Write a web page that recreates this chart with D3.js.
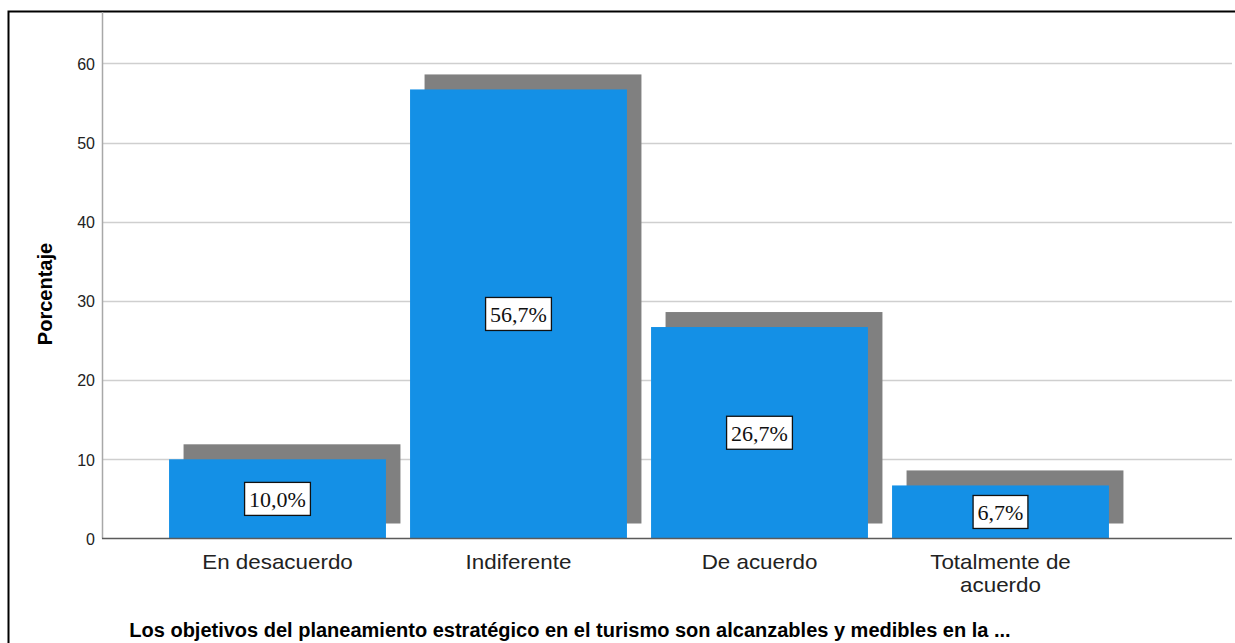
<!DOCTYPE html>
<html><head><meta charset="utf-8">
<script src="https://cdn.jsdelivr.net/npm/d3@7"></script>
<style>html,body{margin:0;padding:0;background:#fff;}svg{display:block;}</style>
</head><body>
<script>
const categories = ["En desacuerdo", "Indiferente", "De acuerdo", "Totalmente de acuerdo"];
const categoryLines = [["En desacuerdo"], ["Indiferente"], ["De acuerdo"], ["Totalmente de", "acuerdo"]];
const percentages = [10.0, 56.7, 26.7, 6.7];
const valueLabels = ["10,0%", "56,7%", "26,7%", "6,7%"];
const yTicks = [0, 10, 20, 30, 40, 50, 60];
const yTitle = "Porcentaje";
const xTitle = "Los objetivos del planeamiento estratégico en el turismo son alcanzables y medibles en la ...";

const W = 1235, H = 643;
const svg = d3.select("body").append("svg").attr("width", W).attr("height", H);
const sans = "Arial, 'Liberation Sans', sans-serif";

// frame
svg.append("path").attr("d", `M8.5,${H} L8.5,11.5 L${W},11.5`).attr("fill", "none").attr("stroke", "#000").attr("stroke-width", 2);

const plotLeft = 102, plotRight = 1232, plotTop = 12;
const y = d3.scaleLinear().domain([0, 60]).range([538.5, 63.3]);
const x = d3.scaleBand().domain(categories).range([157, 1121]).paddingInner(0.1).paddingOuter(0.05);

// gridlines
svg.append("g").selectAll("line").data(yTicks.filter(d => d > 0)).join("line")
  .attr("x1", plotLeft).attr("x2", plotRight)
  .attr("y1", d => Math.round(y(d)) + 0.5).attr("y2", d => Math.round(y(d)) + 0.5)
  .attr("stroke", "#cfcfcf").attr("stroke-width", 1.5);

// y axis
const yAxis = d3.axisLeft(y).tickValues(yTicks).tickSize(0).tickPadding(7);
const gy = svg.append("g").attr("transform", `translate(${plotLeft},0)`).call(yAxis);
gy.select(".domain").remove();
gy.attr("font-size", 16).attr("font-family", sans);
gy.selectAll("text").attr("font-family", sans).attr("font-size", 16).attr("fill", "#222").attr("dy", "0.36em");
svg.append("line").attr("x1", plotLeft + 0.5).attr("x2", plotLeft + 0.5).attr("y1", plotTop).attr("y2", y(0))
  .attr("stroke", "#a8a8a8").attr("stroke-width", 1.5);

// shadows
const sdx = 14.5, sdy = -15;
svg.append("g").selectAll("rect").data(percentages).join("rect")
  .attr("x", (d, i) => x(categories[i]) + sdx)
  .attr("y", d => y(d) + sdy)
  .attr("width", x.bandwidth())
  .attr("height", d => y(0) - y(d))
  .attr("fill", "#808080");

// bars
svg.append("g").selectAll("rect").data(percentages).join("rect")
  .attr("x", (d, i) => x(categories[i]))
  .attr("y", d => y(d))
  .attr("width", x.bandwidth())
  .attr("height", d => y(0) - y(d))
  .attr("fill", "#1490e6");

// baseline
svg.append("line").attr("x1", plotLeft).attr("x2", plotRight).attr("y1", y(0)).attr("y2", y(0))
  .attr("stroke", "#5a5a5a").attr("stroke-width", 1.5);

// value labels
const lg = svg.append("g");
percentages.forEach((d, i) => {
  const cx = x(categories[i]) + x.bandwidth() / 2;
  const cy = (y(d) + y(0)) / 2;
  const g = lg.append("g");
  const t = g.append("text").attr("x", cx).attr("y", cy + 8).attr("text-anchor", "middle")
    .attr("font-family", "'Liberation Serif', 'Times New Roman', serif").attr("font-size", 22).attr("fill", "#111")
    .text(valueLabels[i]);
  const bb = t.node().getBBox();
  const bw = bb.width + 9, bh = 33;
  g.insert("rect", "text").attr("x", cx - bw / 2).attr("y", cy - bh / 2).attr("width", bw).attr("height", bh)
    .attr("fill", "#fff").attr("stroke", "#111").attr("stroke-width", 1.3);
});

// category labels
const cg = svg.append("g");
categories.forEach((c, i) => {
  const cx = x(c) + x.bandwidth() / 2;
  categoryLines[i].forEach((line, j) => {
    cg.append("text").attr("text-anchor", "middle")
      .attr("transform", `translate(${cx},${569 + j * 22.5}) scale(1.12,1)`)
      .attr("font-family", sans).attr("font-size", 20).attr("fill", "#222")
      .text(line);
  });
});

// axis titles
svg.append("text").attr("transform", `translate(52,294) rotate(-90)`).attr("text-anchor", "middle")
  .attr("font-family", sans).attr("font-size", 20).attr("font-weight", "bold").attr("fill", "#000")
  .text(yTitle);
svg.append("text").attr("x", 570).attr("y", 637).attr("text-anchor", "middle")
  .attr("font-family", sans).attr("font-size", 20).attr("font-weight", "bold").attr("fill", "#000")
  .text(xTitle);
</script>
</body></html>
